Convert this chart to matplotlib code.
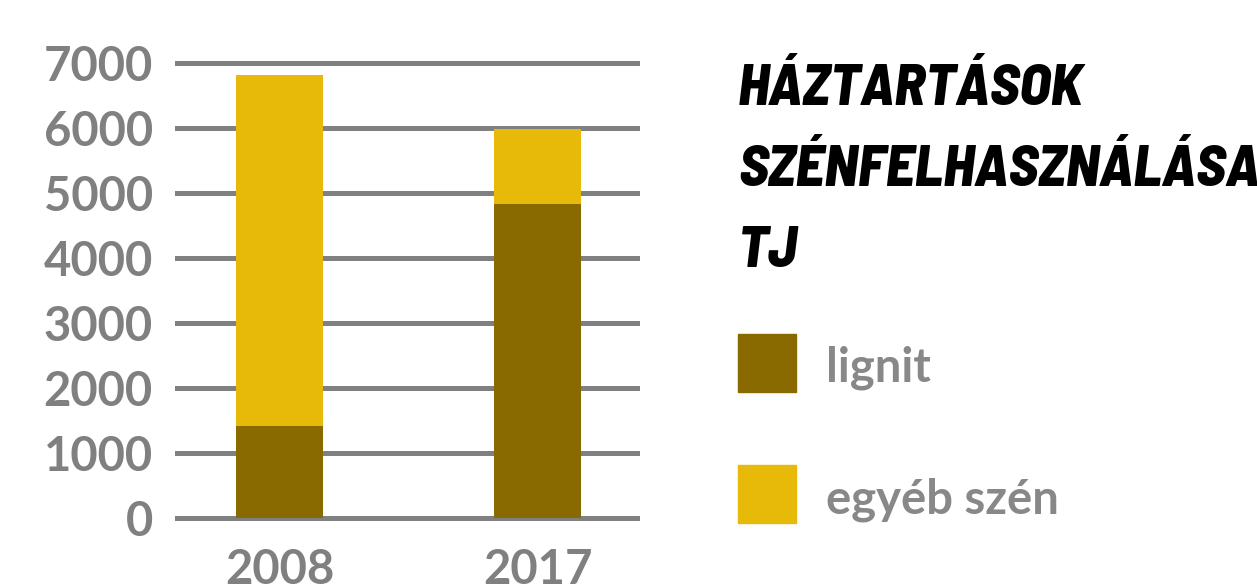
import matplotlib.pyplot as plt
from matplotlib import font_manager
from matplotlib.patches import Rectangle

years = ["2008", "2017"]
lignit = [1415, 4830]
egyeb_szen = [5400, 1150]
series_names = ["lignit", "egyéb szén"]
series_colors = ["#896a00", "#e7b909"]
title_lines = ["HÁZTARTÁSOK", "SZÉNFELHASZNÁLÁSA,", "TJ"]
yticks = [0, 1000, 2000, 3000, 4000, 5000, 6000, 7000]

W, H = 1257, 584
GRAY = "#808080"


def fx(px):
    return px / W


def fy(py):
    return 1 - py / H


def pick_font(candidates):
    have = {f.name for f in font_manager.fontManager.ttflist}
    for c in candidates:
        if c in have:
            return c
    return "DejaVu Sans"


def main():
    title_font = pick_font(["Barlow Semi Condensed", "Barlow Condensed", "Roboto Condensed",
                            "Fira Sans Condensed", "Liberation Sans Narrow"])
    label_font = pick_font(["Lato"])

    fig = plt.figure(figsize=(W / 100, H / 100), dpi=100)

    # axes box in pixels: x 175..640, y 50..530 (0 line at 518, 7000 at 63)
    ax = fig.add_axes([fx(175), fy(530), fx(640) - fx(175), (530 - 50) / H])
    px_per_unit = (518 - 63) / 7000
    ax.set_ylim(-(530 - 518) / px_per_unit, 7000 + (63 - 50) / px_per_unit)
    ax.set_xlim(-0.405, 1.397)

    x = range(len(years))
    ax.bar(x, lignit, width=0.337, color=series_colors[0], zorder=2)
    ax.bar(x, egyeb_szen, width=0.337, bottom=lignit, color=series_colors[1], zorder=2)

    ax.set_axisbelow(True)
    ax.set_yticks(yticks)
    ax.set_yticklabels([str(t) for t in yticks])
    ax.set_xticks(list(x))
    ax.set_xticklabels(years)
    ax.yaxis.grid(True, color=GRAY, linewidth=3.6)
    ax.xaxis.grid(False)
    for s in ax.spines.values():
        s.set_visible(False)
    ax.tick_params(axis="both", length=0, labelcolor=GRAY, labelsize=34)
    ax.tick_params(axis="y", pad=16)
    ax.tick_params(axis="x", pad=13)
    for lab in ax.get_xticklabels() + ax.get_yticklabels():
        lab.set_fontfamily(label_font)
        lab.set_fontweight("bold")

    # title
    for line, base in zip(title_lines, [105, 186, 267]):
        fig.text(fx(738), fy(base), line, fontsize=42, fontweight=800,
                 fontstyle="italic", family=title_font,
                 color="black", va="baseline", ha="left")

    # legend
    for i, (name, col) in enumerate(zip(series_names, series_colors)):
        top = 334 + i * 131
        fig.add_artist(Rectangle((fx(738), fy(top + 58)), fx(58), 58 / H,
                                 transform=fig.transFigure, color=col))
        fig.text(fx(826), fy(top + 48), name, fontsize=34, fontweight="bold",
                 family=label_font, color="#888888", va="baseline", ha="left")

    fig.savefig("out.png", dpi=100)
    plt.close(fig)


if __name__ == "__main__":
    main()
